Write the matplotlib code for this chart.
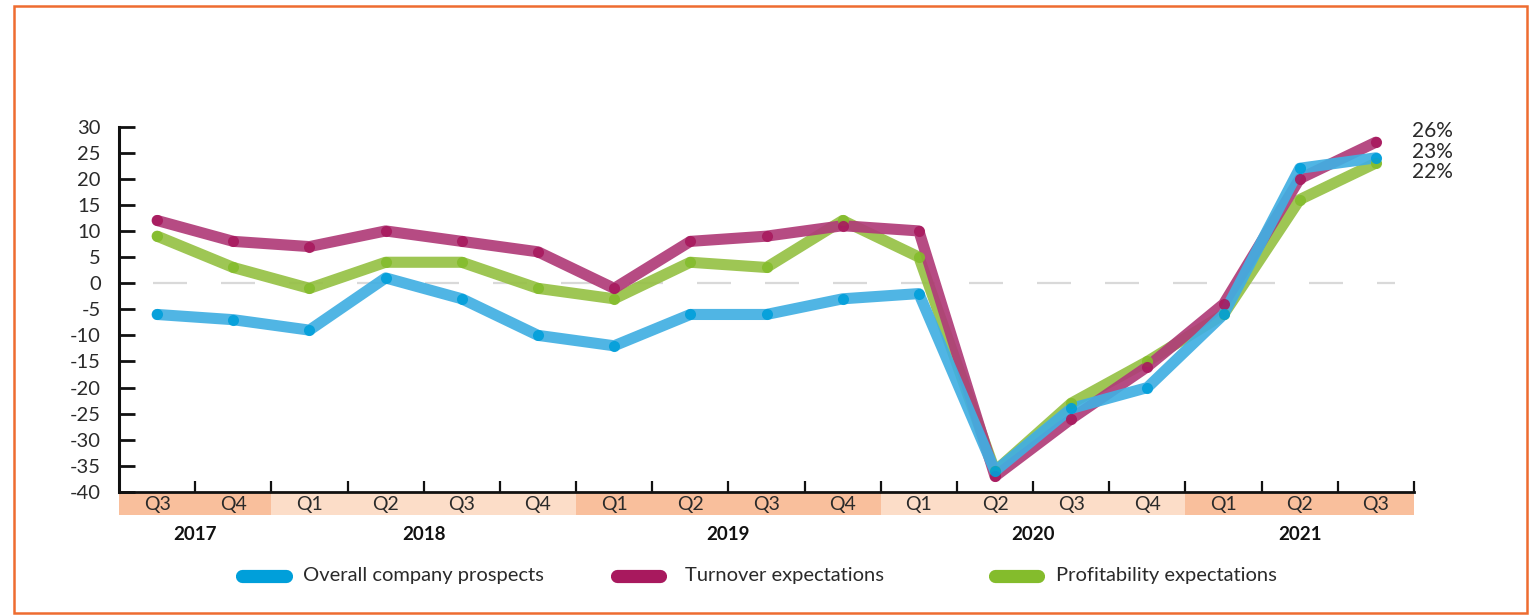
import matplotlib
matplotlib.use("Agg")
import matplotlib.pyplot as plt
from matplotlib.patches import Rectangle
from matplotlib.lines import Line2D
import matplotlib.transforms as mtransforms

# ---- data ----
quarters = ['Q3', 'Q4', 'Q1', 'Q2', 'Q3', 'Q4', 'Q1', 'Q2', 'Q3', 'Q4',
            'Q1', 'Q2', 'Q3', 'Q4', 'Q1', 'Q2', 'Q3']
years = ['2017', '2018', '2019', '2020', '2021']
year_counts = [2, 4, 4, 4, 3]
overall = [-6, -7, -9, 1, -3, -10, -12, -6, -6, -3, -2, -36, -24, -20, -6, 22, 24]
turnover = [12, 8, 7, 10, 8, 6, -1, 8, 9, 11, 10, -37, -26, -16, -4, 20, 27]
profit = [9, 3, -1, 4, 4, -1, -3, 4, 3, 12, 5, -36, -23, -15, -6, 16, 23]
series_names = ['Overall company prospects', 'Turnover expectations', 'Profitability expectations']
end_labels = ['26%', '23%', '22%']
yticks = list(range(-40, 31, 5))

# ---- style ----
FONT = ['Lato', 'DejaVu Sans']
plt.rcParams['font.family'] = FONT
TXT = '#2a2a2a'
line_cols = {'blue': '#41AFE2', 'mag': '#B03C78', 'green': '#96C145'}
mark_cols = {'blue': '#009FDA', 'mag': '#A8195E', 'green': '#84BC2C'}

W, H = 1535, 615
fig = plt.figure(figsize=(W / 100, H / 100), dpi=100)
fig.patch.set_facecolor('white')

def fx(px):
    return px / W

def fy(py):
    return 1 - py / H

ax_left, ax_right, ax_top, ax_bot = 119, 1414, 126.5, 492
ax = fig.add_axes([fx(ax_left), fy(ax_bot), fx(ax_right - ax_left), (ax_bot - ax_top) / H])
n = len(quarters)
x = list(range(n))
ax.set_xlim(-0.5, n - 0.5)
ax.set_ylim(-40, 30)

# zero dashed line
ax.plot([-0.054, 16.25], [0, 0], color='#D9D9D9', lw=1.6,
        dashes=(15.3, 15.3), zorder=1, solid_capstyle='butt', dash_capstyle='butt')

# series
for vals, key in [(profit, 'green'), (turnover, 'mag'), (overall, 'blue')]:
    ax.plot(x, vals, color=line_cols[key], lw=8.0, alpha=0.92,
            solid_capstyle='round', solid_joinstyle='round', zorder=3)
    ax.plot(x, vals, linestyle='none', marker='o', ms=8.0,
            color=mark_cols[key], alpha=0.9, mec='none', zorder=4)

# spines
for s in ['top', 'right']:
    ax.spines[s].set_visible(False)
ax.spines['left'].set_linewidth(2.2)
ax.spines['bottom'].set_linewidth(2.0)
ax.spines['left'].set_color('#111111')
ax.spines['bottom'].set_color('#111111')

ax.set_yticks(yticks)
ax.set_yticklabels([str(v) for v in yticks])
ax.tick_params(axis='y', direction='in', length=11.5, width=2.0, pad=13,
               labelsize=14.5, labelcolor=TXT, color='#111111')
ax.set_xticks([i + 0.5 for i in range(n - 1)] + [n - 0.5])
ax.set_xticklabels([])
ax.tick_params(axis='x', direction='in', length=8, width=1.6, color='#111111')

# band under the axis
trans = mtransforms.blended_transform_factory(ax.transData, ax.transAxes)
band_h = 23 / (ax_bot - ax_top)
dark, light = '#F9BF9C', '#FCDDC8'
start = 0
for i, (yr, cnt) in enumerate(zip(years, year_counts)):
    col = dark if i % 2 == 0 else light
    ax.add_patch(Rectangle((start - 0.5, -band_h), cnt, band_h, transform=trans,
                           facecolor=col, edgecolor='none', clip_on=False, zorder=0))
    ax.text(start - 0.5 + cnt / 2, -(535 - ax_bot) / (ax_bot - ax_top), yr,
            transform=trans, ha='center', va='center', fontsize=13.5,
            fontweight='bold', color='#111111')
    start += cnt
for i, q in enumerate(quarters):
    ax.text(i, -band_h / 2 - 0.003, q, transform=trans, ha='center', va='center',
            fontsize=14, color=TXT)

# end labels
for lab, py in zip(end_labels, [131, 152, 172]):
    fig.text(fx(1412), fy(py), lab, ha='left', va='center', fontsize=15,
             color=TXT)

# legend
leg_items = [('blue', 236, 303), ('mag', 610, 685), ('green', 988, 1056)]
for (key, x0, tx), name in zip(leg_items, series_names):
    fig.add_artist(Line2D([fx(x0 + 6.5), fx(x0 + 56 - 6.5)], [fy(576), fy(576)],
                          transform=fig.transFigure, color=mark_cols[key], lw=9.5,
                          solid_capstyle='round'))
    fig.text(fx(tx), fy(576), name, ha='left', va='center', fontsize=14.5,
             color=TXT)

# outer frame
fig.add_artist(Rectangle((fx(14), fy(613)), fx(1527 - 14), (613 - 6) / H,
                         transform=fig.transFigure, fill=False,
                         edgecolor='#EE6C30', lw=1.8))

fig.savefig('out.png', dpi=100, facecolor='white')
